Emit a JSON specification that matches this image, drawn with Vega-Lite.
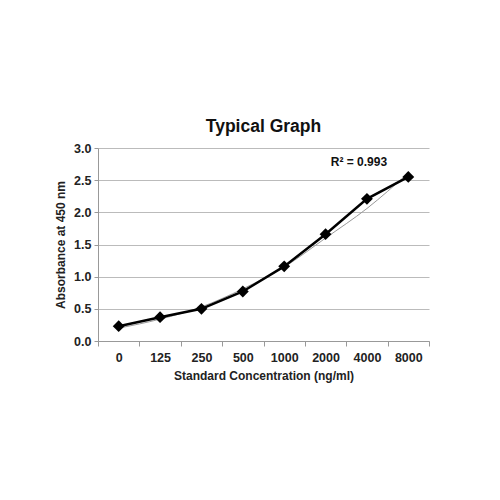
{
  "$schema": "https://vega.github.io/schema/vega-lite/v6.json",
  "width": 331,
  "height": 193,
  "padding": {"left": 54, "top": 117, "right": 10, "bottom": 10},
  "title": {
    "text": "Typical Graph",
    "fontSize": 17.5,
    "fontWeight": "bold",
    "font": "Liberation Sans",
    "color": "#111",
    "offset": 7
  },
  "config": {
    "view": {"stroke": null},
    "font": "Liberation Sans",
    "axis": {
      "labelFont": "Liberation Sans",
      "labelFontWeight": "bold",
      "labelFontSize": 12.5,
      "labelColor": "#222",
      "titleFont": "Liberation Sans",
      "titleFontWeight": "bold",
      "titleFontSize": 12,
      "titleColor": "#222",
      "domainColor": "#999",
      "tickColor": "#999",
      "gridColor": "#bbb"
    }
  },
  "data": {
    "values": [
      {"conc": "0", "absorbance": 0.23, "trend": 0.2},
      {"conc": "125", "absorbance": 0.37, "trend": 0.34},
      {"conc": "250", "absorbance": 0.5, "trend": 0.53},
      {"conc": "500", "absorbance": 0.77, "trend": 0.81},
      {"conc": "1000", "absorbance": 1.16, "trend": 1.15},
      {"conc": "2000", "absorbance": 1.66, "trend": 1.6},
      {"conc": "4000", "absorbance": 2.21, "trend": 2.06},
      {"conc": "8000", "absorbance": 2.55, "trend": 2.61}
    ]
  },
  "encoding": {
    "x": {
      "field": "conc",
      "type": "nominal",
      "sort": null,
      "scale": {"paddingInner": 0, "paddingOuter": 0},
      "axis": {
        "title": "Standard Concentration (ng/ml)",
        "labelAngle": 0,
        "tickBand": "extent",
        "tickSize": 5,
        "labelPadding": 5,
        "titlePadding": 7,
        "grid": false
      }
    }
  },
  "layer": [
    {
      "mark": {"type": "line", "color": "#999", "strokeWidth": 1, "interpolate": "monotone"},
      "encoding": {
        "y": {
          "field": "trend",
          "type": "quantitative",
          "scale": {"domain": [0, 3], "nice": false},
          "axis": {
            "title": "Absorbance at 450 nm",
            "tickCount": 6,
            "labelOverlap": false,
            "format": ".1f",
            "tickSize": 4,
            "labelPadding": 3,
            "titlePadding": 6,
            "grid": true
          }
        }
      }
    },
    {
      "mark": {
        "type": "line",
        "color": "#000",
        "strokeWidth": 2.5,
        "point": {"shape": "diamond", "filled": true, "size": 140, "color": "#000"}
      },
      "encoding": {
        "y": {"field": "absorbance", "type": "quantitative"}
      }
    },
    {
      "data": {"values": [{"label": "R² = 0.993"}]},
      "mark": {
        "type": "text",
        "fontSize": 12,
        "fontWeight": "bold",
        "color": "#111",
        "dx": -8
      },
      "encoding": {
        "x": {"datum": "4000"},
        "y": {"datum": 2.78},
        "text": {"field": "label"}
      }
    }
  ]
}
